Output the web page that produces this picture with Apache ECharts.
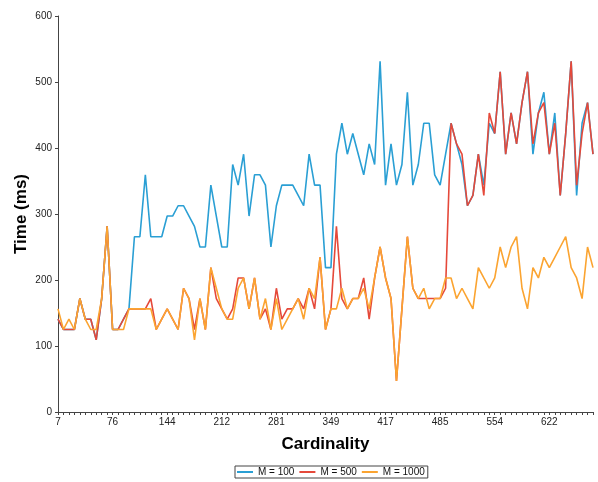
<!DOCTYPE html>
<html>
<head>
<meta charset="utf-8">
<script src="https://cdn.jsdelivr.net/npm/echarts@6/dist/echarts.min.js"></script>
<style>
  html, body { margin: 0; padding: 0; background: #fff; }
  #chart { width: 598px; height: 482px; }
</style>
</head>
<body>
<div id="chart"></div>
<script>
// cardinality values on the x axis (one per tick)
const categories = [7, 14, 21, 27, 34, 41, 48, 55, 62, 68, 76, 82, 89, 96, 103, 109, 116, 123, 130, 137,
  144, 150, 157, 164, 171, 178, 185, 191, 198, 205, 212, 219, 226, 232, 239, 246, 253, 260, 267, 273,
  281, 287, 294, 301, 308, 314, 321, 328, 335, 342, 349, 355, 362, 369, 376, 383, 390, 396, 403, 410,
  417, 424, 431, 437, 444, 451, 458, 465, 472, 478, 485, 492, 499, 506, 513, 519, 526, 533, 540, 547,
  554, 560, 567, 574, 581, 588, 595, 601, 608, 615, 622, 629, 636, 642, 649, 656, 663, 670, 677];

const seriesNames = ['M = 100', 'M = 500', 'M = 1000'];

// time in ms
const m100 = [140.6, 125, 125, 125, 171.9, 140.6, 140.6, 109.4, 171.9, 281.25, 125, 125, 140.6,
  156.25, 265.6, 265.6, 359.4, 265.6, 265.6, 265.6, 296.9, 296.9, 312.5, 312.5, 296.9, 281.25, 250, 250,
  343.75, 296.9, 250, 250, 375, 343.75, 390.6, 296.9, 359.4, 359.4, 343.75, 250, 312.5, 343.75, 343.75,
  343.75, 328.1, 312.5, 390.6, 343.75, 343.75, 218.75, 218.75,
  390.6, 437.5, 390.6, 421.9, 390.6, 359.4, 406.25, 375, 531.25, 343.75, 406.25, 343.75, 375, 484.4,
  343.75, 375, 437.5, 437.5, 359.4, 343.75, 390.6, 437.5, 406.25, 375, 312.5, 328.1, 390.6, 343.75,
  437.5, 421.9, 515.6, 390.6, 453.1, 406.25, 468.75, 515.6, 390.6, 453.1, 484.4, 390.6, 453.1, 328.1,
  421.9, 531.25, 328.1, 437.5, 468.75, 390.6];

const m500 = [140.6, 125, 125, 125, 171.9, 140.6, 140.6, 109.4, 171.9, 281.25, 125, 125, 140.6,
  156.25, 156.25, 156.25, 156.25, 171.9, 125, 140.6, 156.25, 140.6, 125, 187.5, 171.9, 125, 171.9, 125,
  218.75, 171.9, 156.25, 140.6, 156.25, 203.1, 203.1, 156.25, 203.1, 140.6, 156.25, 125, 187.5, 140.6,
  156.25, 156.25, 171.9, 156.25, 187.5, 156.25, 234.4, 125, 156.25,
  281.25, 171.9, 156.25, 171.9, 171.9, 203.1, 140.6, 203.1, 250, 203.1, 171.9, 46.9,
  156.25, 265.6, 187.5, 171.9, 171.9, 171.9, 171.9, 171.9, 187.5, 437.5, 406.25, 390.6, 312.5, 328.1,
  390.6, 328.1, 453.1, 421.9, 515.6, 390.6, 453.1, 406.25, 468.75, 515.6, 406.25, 453.1, 468.75, 390.6,
  437.5, 328.1, 421.9, 531.25, 343.75, 421.9, 468.75, 390.6];

const m1000 = [156.25, 125, 140.6, 125, 171.9, 140.6, 125, 125, 171.9, 281.25, 125, 125, 125,
  156.25, 156.25, 156.25, 156.25, 156.25, 125, 140.6, 156.25, 140.6, 125, 187.5, 171.9, 109.4, 171.9, 125,
  218.75, 187.5, 156.25, 140.6, 140.6, 187.5, 203.1, 156.25, 203.1, 140.6, 171.9, 125, 171.9, 125,
  140.6, 156.25, 171.9, 140.6, 187.5, 171.9, 234.4, 125, 156.25,
  156.25, 187.5, 156.25, 171.9, 171.9, 187.5, 156.25, 203.1, 250, 203.1, 171.9, 46.9,
  156.25, 265.6, 187.5, 171.9, 187.5, 156.25, 171.9, 171.9, 203.1, 203.1, 171.9, 187.5, 171.9, 156.25,
  218.75, 203.1, 187.5, 203.1, 250, 218.75, 250, 265.6, 187.5, 156.25, 218.75, 203.1, 234.4, 218.75,
  234.4, 250, 265.6, 218.75, 203.1, 171.9, 250, 218.75];

const colors = ['#2a9fd4', '#e5493a', '#fba431'];

const chart = echarts.init(document.getElementById('chart'), null, { renderer: 'canvas' });

const font = 'Liberation Sans, Arial, sans-serif';

chart.setOption({
  animation: false,
  color: colors,
  textStyle: { fontFamily: font },
  grid: { left: 58, right: 5, top: 16, bottom: 70, containLabel: false },
  legend: {
    top: 466,
    left: 235,
    data: seriesNames,
    icon: 'rect',
    itemWidth: 16,
    itemHeight: 2,
    itemGap: 5,
    padding: [1, 3, 1, 2],
    borderColor: '#444',
    borderWidth: 1,
    textStyle: { fontSize: 10, color: '#111', fontFamily: font }
  },
  xAxis: {
    type: 'category',
    data: categories,
    boundaryGap: false,
    name: 'Cardinality',
    nameLocation: 'middle',
    nameGap: 24,
    nameMoveOverlap: false,
    nameTextStyle: { fontSize: 17, fontWeight: 'bold', color: '#000', fontFamily: font },
    axisLine: { lineStyle: { color: '#444', width: 1 } },
    axisTick: { interval: 0, length: 3, lineStyle: { color: '#444' } },
    axisLabel: { interval: 9, fontSize: 10, color: '#222', margin: 5, fontFamily: font },
    splitLine: { show: false }
  },
  yAxis: {
    type: 'value',
    min: 0,
    max: 600,
    interval: 100,
    name: 'Time (ms)',
    nameLocation: 'middle',
    nameGap: 28,
    nameMoveOverlap: false,
    nameTextStyle: { fontSize: 17, fontWeight: 'bold', color: '#000', fontFamily: font },
    axisLine: { show: true, lineStyle: { color: '#444', width: 1 } },
    axisTick: { show: true, length: 3, lineStyle: { color: '#444' } },
    axisLabel: { fontSize: 10, color: '#222', margin: 6, fontFamily: font },
    splitLine: { show: false }
  },
  series: [
    { name: seriesNames[0], type: 'line', data: m100, symbol: 'none', lineStyle: { width: 1.6 } },
    { name: seriesNames[1], type: 'line', data: m500, symbol: 'none', lineStyle: { width: 1.6 } },
    { name: seriesNames[2], type: 'line', data: m1000, symbol: 'none', lineStyle: { width: 1.6 } }
  ]
});
</script>
</body>
</html>
